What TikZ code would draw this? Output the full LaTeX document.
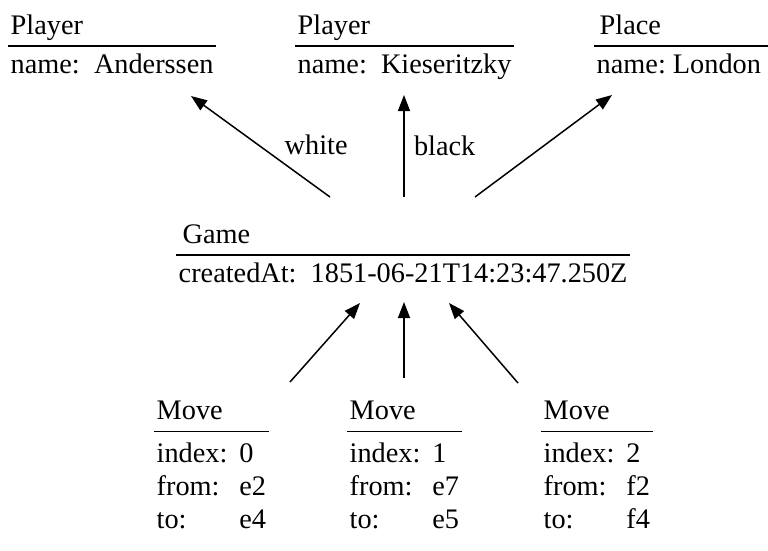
\documentclass[tikz,border=0pt]{standalone}
\usepackage{fontspec}
\setmainfont{Liberation Serif}
\usetikzlibrary{arrows.meta,positioning}
\tikzset{
      attrs/.style={
        anchor=base west,
        inner xsep=2.5pt,
        inner ysep=7pt
      },
      ctitle/.style={
        anchor=base west,
        inner xsep=2.5pt
      },
      rule/.style={line width=1.4pt},
      assoc/.style={
        -{Triangle[length=16pt,width=12pt]},
        line width=1.5pt
      }
    }

\begin{document}
\begin{tikzpicture}[x=1pt,y=-1pt,font=\fontsize{28.3}{33}\selectfont]
    \useasboundingbox (0,0) rectangle (768,550);
    % top row
    \node[attrs] (p1a) at (8,73) {name:\ \ Anderssen};
    \node[attrs] (p2a) at (295,73) {name:\ \ Kieseritzky};
    \node[attrs] (pla) at (594,73) {name:\ London};
    \node[ctitle] (p1t) at ([yshift=12pt]p1a.north west) {Player};
    \node[ctitle] (p2t) at ([yshift=12pt]p2a.north west) {Player};
    \node[ctitle] (plt) at ([xshift=3pt,yshift=12pt]pla.north west) {Place};
    \draw[rule] (p1a.north west) -- (p1a.north east);
    \draw[rule] (p2a.north west) -- (p2a.north east);
    \draw[rule] (pla.north west) -- (768,0 |- pla.north east);
    % game
    \node[attrs] (ga) at (176,282) {createdAt:\ \ 1851-06-21T14:23:47.250Z};
    \node[ctitle] (gt) at ([xshift=4pt,yshift=12pt]ga.north west) {Game};
    \draw[rule] (ga.north west) -- (ga.north east);
    % moves
    \node[attrs] (m1a) at (154,462) {\begin{tabular}[t]{@{}l@{\hspace{12pt}}l@{}}index: & 0\\ from: & e2\\ to: & e4\end{tabular}};
    \node[attrs] (m2a) at (347,462) {\begin{tabular}[t]{@{}l@{\hspace{12pt}}l@{}}index: & 1\\ from: & e7\\ to: & e5\end{tabular}};
    \node[attrs] (m3a) at (541,462) {\begin{tabular}[t]{@{}l@{\hspace{12pt}}l@{}}index: & 2\\ from: & f2\\ to: & f4\end{tabular}};
    \node[ctitle] (m1t) at ([yshift=12pt]m1a.north west) {Move};
    \node[ctitle] (m2t) at ([yshift=12pt]m2a.north west) {Move};
    \node[ctitle] (m3t) at ([yshift=12pt]m3a.north west) {Move};
    \draw[rule] (m1a.north west) -- (m1a.north east);
    \draw[rule] (m2a.north west) -- (m2a.north east);
    \draw[rule] (m3a.north west) -- (m3a.north east);
    % arrow ends
    \coordinate (gw) at (330,197);
    \coordinate (gb) at (404,197);
    \coordinate (gp) at (475,197);
    \coordinate (p1in) at (191,96);
    \coordinate (p2in) at (404,95);
    \coordinate (plin) at (612,95);
    \coordinate (m1out) at (290,382);
    \coordinate (m2out) at (404,378);
    \coordinate (m3out) at (518,383);
    \coordinate (g1in) at (360,303);
    \coordinate (g2in) at (404,302);
    \coordinate (g3in) at (449,303);
    \draw[assoc] (gw) -- node[pos=0.42, anchor=base west, xshift=9pt] (lw) {white} (p1in);
    \draw[assoc] (gb) -- node[pos=0.41, anchor=base west, xshift=6pt] (lb) {black} (p2in);
    \draw[assoc] (gp) -- (plin);
    \draw[assoc] (m1out) -- (g1in);
    \draw[assoc] (m2out) -- (g2in);
    \draw[assoc] (m3out) -- (g3in);
    \end{tikzpicture}
\end{document}
